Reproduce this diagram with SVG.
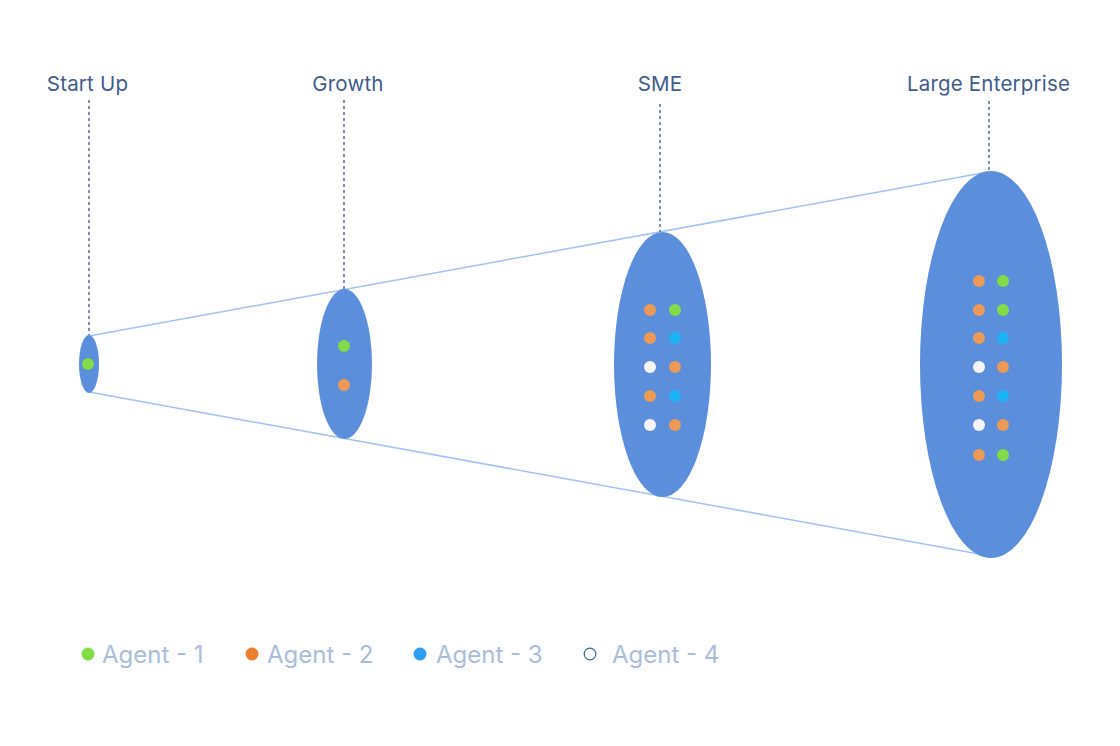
<svg xmlns="http://www.w3.org/2000/svg" width="1120" height="746" viewBox="0 0 1120 746">
<style>
.lbl{font-family:Inter,"Noto Sans",sans-serif;font-size:20.5px;letter-spacing:0.2px;fill:#405c8c;text-anchor:middle}
.leg{font-family:Inter,"Noto Sans",sans-serif;font-size:24px;fill:#a9bddb}
.stage{fill:#5b8fdb}
.dash{stroke:#5a76a6;stroke-width:1.6;stroke-dasharray:3 3;fill:none}
.cone{stroke:#a3c2f2;stroke-width:1.5;fill:none}
.g{fill:#82dc45}.o{fill:#ec9a55}.b{fill:#1cb3f7}.w{fill:#f7f4f7}
</style>
<rect width="1120" height="746" fill="#ffffff"/>
<g id="connectors">
<line class="cone" x1="89" y1="336" x2="988" y2="172"/>
<line class="cone" x1="89" y1="392" x2="990" y2="556"/>
<line class="dash" x1="89" y1="100" x2="89" y2="335"/>
<line class="dash" x1="344" y1="100" x2="344" y2="289"/>
<line class="dash" x1="660" y1="104" x2="660" y2="232"/>
<line class="dash" x1="989" y1="101" x2="989" y2="171"/>
</g>
<g id="startup">
<text class="lbl" x="87.5" y="91">Start Up</text>
<ellipse class="stage" cx="89" cy="364" rx="10" ry="29"/>
<circle class="g" cx="88" cy="364" r="6"/>
</g>
<g id="growth">
<text class="lbl" x="348" y="91">Growth</text>
<ellipse class="stage" cx="344.5" cy="364" rx="27.5" ry="75"/>
<circle class="g" cx="344" cy="346" r="6"/>
<circle class="o" cx="344" cy="385" r="6"/>
</g>
<g id="sme">
<text class="lbl" x="660" y="91">SME</text>
<ellipse class="stage" cx="662.5" cy="364.5" rx="48.5" ry="132.5"/>
<circle class="o" cx="650" cy="310" r="6"/><circle class="g" cx="675" cy="310" r="6"/>
<circle class="o" cx="650" cy="338" r="6"/><circle class="b" cx="675" cy="338" r="6"/>
<circle class="w" cx="650" cy="367" r="6"/><circle class="o" cx="675" cy="367" r="6"/>
<circle class="o" cx="650" cy="396" r="6"/><circle class="b" cx="675" cy="396" r="6"/>
<circle class="w" cx="650" cy="425" r="6"/><circle class="o" cx="675" cy="425" r="6"/>
</g>
<g id="large">
<text class="lbl" x="988.5" y="91">Large Enterprise</text>
<ellipse class="stage" cx="991" cy="364.5" rx="71" ry="193.5"/>
<circle class="o" cx="979" cy="281" r="6"/><circle class="g" cx="1003" cy="281" r="6"/>
<circle class="o" cx="979" cy="310" r="6"/><circle class="g" cx="1003" cy="310" r="6"/>
<circle class="o" cx="979" cy="338" r="6"/><circle class="b" cx="1003" cy="338" r="6"/>
<circle class="w" cx="979" cy="367" r="6"/><circle class="o" cx="1003" cy="367" r="6"/>
<circle class="o" cx="979" cy="396" r="6"/><circle class="b" cx="1003" cy="396" r="6"/>
<circle class="w" cx="979" cy="425" r="6"/><circle class="o" cx="1003" cy="425" r="6"/>
<circle class="o" cx="979" cy="455" r="6"/><circle class="g" cx="1003" cy="455" r="6"/>
</g>
<g id="legend">
<circle cx="88" cy="654" r="6.5" fill="#82dc45"/>
<text class="leg" x="102" y="662.5">Agent - 1</text>
<circle cx="252" cy="654" r="6.5" fill="#e8802f"/>
<text class="leg" x="267" y="662.5">Agent - 2</text>
<circle cx="420" cy="654" r="6.5" fill="#2f9ff6"/>
<text class="leg" x="436" y="662.5">Agent - 3</text>
<circle cx="590" cy="654" r="5.8" fill="#ffffff" stroke="#2f6a9a" stroke-width="1.2"/>
<text class="leg" x="612" y="662.5">Agent - 4</text>
</g>
</svg>
